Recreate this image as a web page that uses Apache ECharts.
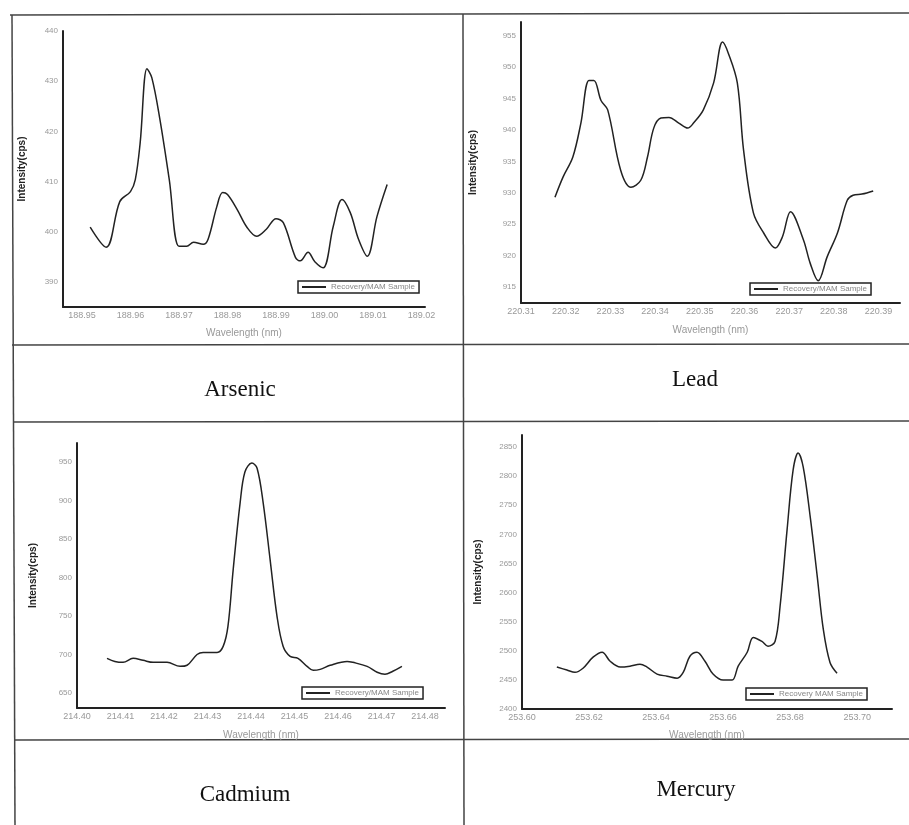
<!DOCTYPE html>
<html>
<head>
<meta charset="UTF-8"/>
<title>Spectra</title>
<script src="https://cdn.jsdelivr.net/npm/echarts@6/dist/echarts.min.js"></script>
<style>
  html, body { margin: 0; padding: 0; background: #fff; }
  #chart { width: 909px; height: 825px; }
</style>
</head>
<body>
<div id="chart"></div>
<script>
// Arsenic
var asX = [188.9517, 188.955, 188.9578, 188.960, 188.961, 188.962, 188.9634, 188.9644, 188.966, 188.968,
           188.970, 188.9716, 188.973, 188.975, 188.976, 188.9778, 188.979, 188.980, 188.982, 188.984,
           188.986, 188.988, 188.990, 188.9915, 188.994, 188.995, 188.9966, 188.998, 188.9997, 189.0018,
           189.0036, 189.0053, 189.007, 189.0088, 189.0108, 189.0129];
var asY = [400.9, 396.9, 406, 408, 410.4, 417.7, 432.5, 430.7, 422.8, 410.4,
           397.1, 397.1, 397.9, 397.5, 398.5, 405, 407.8, 407.4, 404.4, 400.9,
           399.1, 400.5, 402.6, 401.8, 394.9, 394.2, 395.9, 394, 392.8, 401.1,
           406.4, 403.8, 398.5, 395.1, 403, 409.4];
var asXTicks = [188.95, 188.96, 188.97, 188.98, 188.99, 189.00, 189.01, 189.02];
var asYTicks = [390, 400, 410, 420, 430, 440];

// Lead
var pbX = [220.3176, 220.3194, 220.3216, 220.3234, 220.3252, 220.3263, 220.3279, 220.3294, 220.3323, 220.3346,
           220.3368, 220.3383, 220.3397, 220.3413, 220.3431, 220.3453, 220.3473, 220.3486, 220.3508, 220.3531,
           220.3551, 220.3564, 220.3584, 220.3598, 220.3620, 220.3643, 220.3669, 220.3685, 220.3703, 220.3732,
           220.3747, 220.3765, 220.3785, 220.3808, 220.3830, 220.3843, 220.3863, 220.3888];
var pbY = [929.3, 932.5, 935.7, 941.1, 947.9, 947.9, 944.7, 943.2, 933.6, 930.9,
           932, 935.7, 940.3, 941.9, 942, 941.1, 940.3, 941.1, 943.2, 947.5,
           954, 952.2, 947.5, 936.8, 926.8, 923.6, 921.2, 923, 927, 922.5,
           918.8, 916, 919.8, 923.6, 928.8, 929.6, 929.8, 930.3];
var pbXTicks = [220.31, 220.32, 220.33, 220.34, 220.35, 220.36, 220.37, 220.38, 220.39];
var pbYTicks = [915, 920, 925, 930, 935, 940, 945, 950, 955];

// Cadmium
var cdX = [214.4069, 214.4087, 214.4106, 214.4129, 214.4152, 214.4175, 214.4207, 214.4237, 214.4253, 214.4276,
           214.4290, 214.4322, 214.4336, 214.4347, 214.4359, 214.4375, 214.4386, 214.4402, 214.4414, 214.4428,
           214.4444, 214.4460, 214.4474, 214.4490, 214.4508, 214.4529, 214.4543, 214.4559, 214.4582, 214.4621,
           214.4634, 214.4667, 214.4690, 214.4708, 214.4726, 214.4747];
var cdY = [695, 691, 689.8, 695, 692.4, 689.8, 689.8, 684.6, 686, 700,
           702.7, 702.7, 710.5, 736.4, 810, 897, 937, 948.7, 942, 897,
           823, 749, 710.5, 697.6, 695, 684.6, 679.4, 680.7, 686, 691,
           689.8, 684.6, 676.9, 674.3, 678.2, 684.6];
var cdXTicks = [214.40, 214.41, 214.42, 214.43, 214.44, 214.45, 214.46, 214.47, 214.48];
var cdYTicks = [650, 700, 750, 800, 850, 900, 950];

// Mercury
var hgX = [253.6104, 253.6134, 253.6158, 253.6182, 253.6212, 253.6239, 253.6263, 253.6293, 253.6322, 253.6352,
           253.6373, 253.6403, 253.6433, 253.6463, 253.6481, 253.6501, 253.6522, 253.6546, 253.6570, 253.6600,
           253.6627, 253.6645, 253.6672, 253.6690, 253.6716, 253.6734, 253.6755, 253.6770, 253.6791, 253.6809,
           253.6824, 253.6839, 253.6860, 253.6881, 253.6899, 253.6919, 253.6940];
var hgY = [2472, 2467, 2463, 2470, 2489, 2497.5, 2482, 2472, 2473.6, 2477,
           2472, 2460, 2456.4, 2453, 2463, 2490.6, 2497.5, 2482, 2460, 2449.6,
           2449.6, 2473.6, 2497.5, 2523, 2516, 2507.8, 2516, 2576, 2708, 2810.6,
           2839.7, 2815.8, 2730, 2627.5, 2537, 2480, 2461.6];
var hgXTicks = [253.60, 253.62, 253.64, 253.66, 253.68, 253.70];
var hgYTicks = [2400, 2450, 2500, 2550, 2600, 2650, 2700, 2750, 2800, 2850];

var captions = ['Arsenic', 'Lead', 'Cadmium', 'Mercury'];
var legendNames = ['Recovery/MAM Sample', 'Recovery/MAM Sample', 'Recovery/MAM Sample', 'Recovery MAM Sample'];

function pairs(xs, ys) {
    var out = [];
    for (var i = 0; i < xs.length; i++) out.push([xs[i], ys[i]]);
    return out;
}

var grids = [
    {left: 63, top: 31, width: 362, height: 276},
    {left: 521, top: 22, width: 379, height: 281},
    {left: 77, top: 443, width: 368, height: 265},
    {left: 522, top: 435, width: 370, height: 274}
];
var xRanges = [[188.9461, 189.0207, asXTicks], [220.31, 220.3948, pbXTicks],
               [214.40, 214.4846, cdXTicks], [253.60, 253.7104, hgXTicks]];
var yRanges = [[385, 440, asYTicks], [912.45, 957.2, pbYTicks],
               [630.5, 974.7, cdYTicks], [2400, 2870.6, hgYTicks]];
var yGaps = [36, 43, 39, 39];
var xGaps = [21, 22, 22, 21];
var data = [pairs(asX, asY), pairs(pbX, pbY), pairs(cdX, cdY), pairs(hgX, hgY)];
var legendPos = [
    {left: 298, top: 281}, {left: 750, top: 283}, {left: 302, top: 687}, {left: 746, top: 688}
];

var xAxes = [], yAxes = [], series = [], legends = [];
for (var k = 0; k < 4; k++) {
    xAxes.push({
        type: 'value', gridIndex: k, min: xRanges[k][0], max: xRanges[k][1],
        name: 'Wavelength (nm)', nameLocation: 'middle', nameGap: xGaps[k],
        nameTextStyle: {color: '#999', fontSize: 10, fontFamily: 'Liberation Sans'},
        splitLine: {show: false}, axisTick: {show: false},
        axisLine: {lineStyle: {color: '#222', width: 2}},
        axisLabel: {customValues: xRanges[k][2], color: '#999', fontSize: 9, margin: 4,
                    fontFamily: 'Liberation Sans', showMaxLabel: true, showMinLabel: true,
                    formatter: function (v) { return v.toFixed(2); }}
    });
    yAxes.push({
        type: 'value', gridIndex: k, min: yRanges[k][0], max: yRanges[k][1],
        name: 'Intensity(cps)', nameLocation: 'middle', nameGap: yGaps[k],
        nameTextStyle: {color: '#222', fontSize: 10, fontWeight: 'bold', fontFamily: 'Liberation Sans'},
        splitLine: {show: false}, axisTick: {show: false},
        axisLine: {show: true, lineStyle: {color: '#222', width: 2}},
        axisLabel: {customValues: yRanges[k][2], color: '#999', fontSize: 8, margin: 5,
                    fontFamily: 'Liberation Sans', showMinLabel: true,
                    formatter: function (v) { return String(Math.round(v)); }}
    });
    series.push({
        name: legendNames[k], type: 'line', xAxisIndex: k, yAxisIndex: k,
        data: data[k], smooth: 0.35, showSymbol: false,
        lineStyle: {color: '#222', width: 1.5}, itemStyle: {color: '#222'}
    });
    legends.push({
        data: [legendNames[k]], left: legendPos[k].left, top: legendPos[k].top,
        orient: 'horizontal', icon: 'rect', itemWidth: 24, itemHeight: 2, itemGap: 4,
        padding: [2, 4, 2, 4], borderColor: '#222', borderWidth: 1.5,
        textStyle: {color: '#888', fontSize: 8, fontFamily: 'Liberation Sans'}
    });
}

var lineStyle = {stroke: '#444', lineWidth: 1.5};
var graphics = [
    {type: 'line', shape: {x1: 10, y1: 15, x2: 909, y2: 13}, style: lineStyle},
    {type: 'line', shape: {x1: 12, y1: 15, x2: 15, y2: 825}, style: lineStyle},
    {type: 'line', shape: {x1: 463, y1: 14, x2: 464, y2: 825}, style: lineStyle},
    {type: 'line', shape: {x1: 12, y1: 345, x2: 909, y2: 344}, style: lineStyle},
    {type: 'line', shape: {x1: 13, y1: 422, x2: 909, y2: 421}, style: lineStyle},
    {type: 'line', shape: {x1: 14, y1: 740, x2: 909, y2: 739}, style: lineStyle}
];
var capPos = [[240, 390], [695, 380], [245, 795], [696, 790]];
for (var c = 0; c < 4; c++) {
    graphics.push({
        type: 'text', x: capPos[c][0], y: capPos[c][1],
        style: {text: captions[c], fill: '#111', font: '23px "Liberation Serif"',
                textAlign: 'center', textVerticalAlign: 'middle'}
    });
}

var myChart = echarts.init(document.getElementById('chart'));
var option = {
    backgroundColor: '#fff',
    animation: false,
    grid: grids,
    xAxis: xAxes,
    yAxis: yAxes,
    legend: legends,
    series: series,
    graphic: graphics
};
myChart.setOption(option);
</script>
</body>
</html>
